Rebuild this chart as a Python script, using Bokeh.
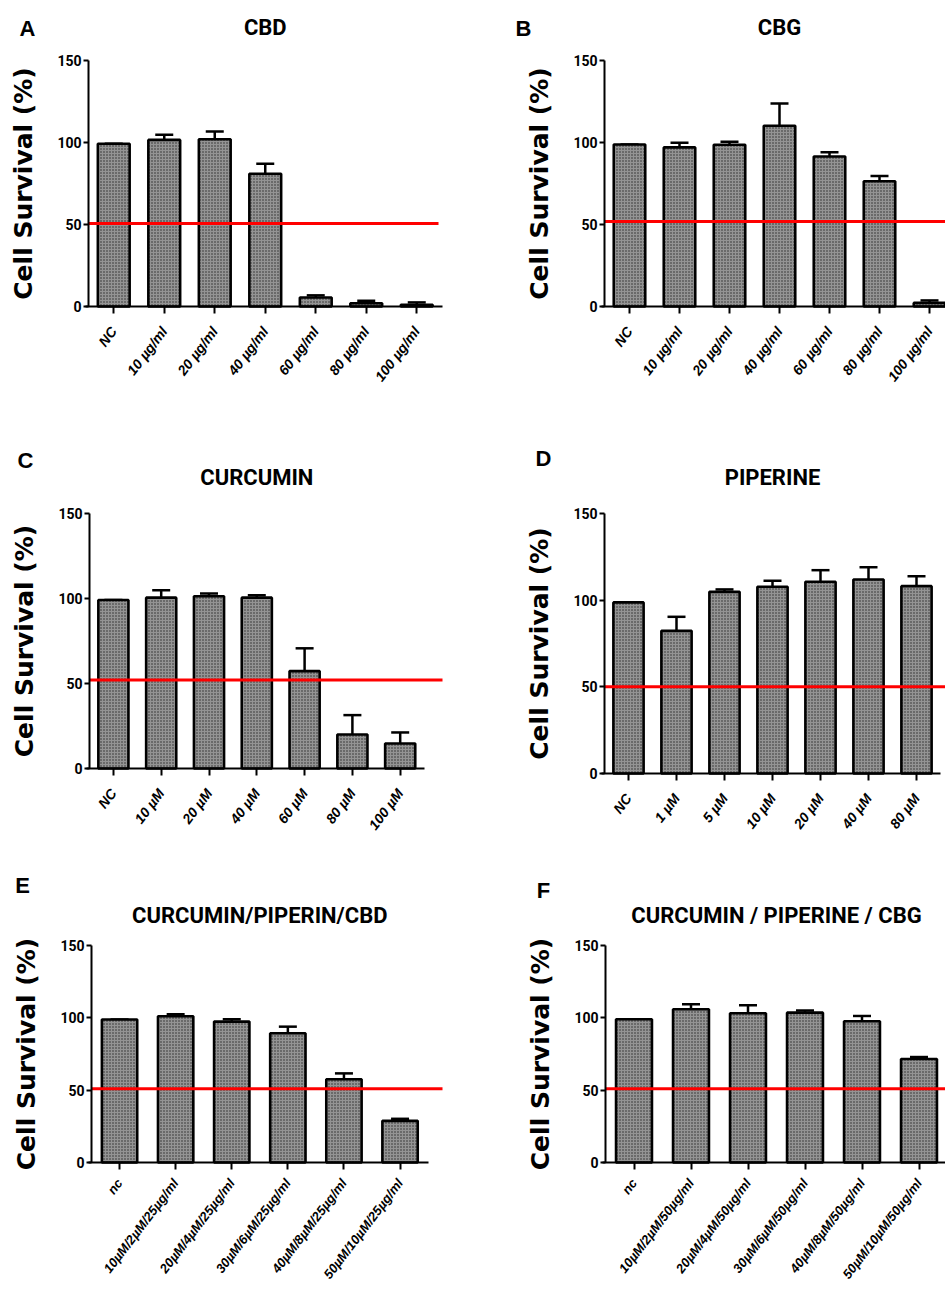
from bokeh.plotting import figure
from bokeh.models import Whisker, TeeHead, Label, ColumnDataSource, FixedTicker
from bokeh.layouts import column, row
from bokeh.embed import file_html
from bokeh.resources import INLINE
import math

# ---------------- data ----------------
cbd_labels = ["NC", "10 µg/ml", "20 µg/ml", "40 µg/ml", "60 µg/ml", "80 µg/ml", "100 µg/ml"]
cbd_mean = [99.2, 101.6, 102.0, 80.9, 5.5, 2.0, 1.0]
cbd_upper = [99.2, 104.7, 106.7, 87.0, 6.8, 3.5, 2.5]

cbg_labels = ["NC", "10 µg/ml", "20 µg/ml", "40 µg/ml", "60 µg/ml", "80 µg/ml", "100 µg/ml"]
cbg_mean = [98.8, 97.0, 98.6, 110.2, 91.5, 76.4, 2.2]
cbg_upper = [98.8, 99.8, 100.4, 123.8, 94.1, 79.5, 3.7]

cur_labels = ["NC", "10 µM", "20 µM", "40 µM", "60 µM", "80 µM", "100 µM"]
cur_mean = [99.1, 100.5, 101.3, 100.5, 57.3, 20.0, 14.7]
cur_upper = [99.1, 104.8, 103.0, 101.9, 70.7, 31.4, 21.2]

pip_labels = ["NC", "1 µM", "5 µM", "10 µM", "20 µM", "40 µM", "80 µM"]
pip_mean = [98.7, 82.3, 104.8, 107.7, 110.6, 111.9, 108.1]
pip_upper = [98.7, 90.4, 106.2, 111.2, 117.3, 119.0, 113.8]

mixe_labels = ["nc", "10µM/2µM/25µg/ml", "20µM/4µM/25µg/ml", "30µM/6µM/25µg/ml",
               "40µM/8µM/25µg/ml", "50µM/10µM/25µg/ml"]
mixe_mean = [98.8, 101.1, 97.4, 89.3, 57.5, 28.8]
mixe_upper = [98.8, 102.5, 99.0, 93.9, 61.6, 30.2]

mixf_labels = ["nc", "10µM/2µM/50µg/ml", "20µM/4µM/50µg/ml", "30µM/6µM/50µg/ml",
               "40µM/8µM/50µg/ml", "50µM/10µM/50µg/ml"]
mixf_mean = [99.0, 105.9, 103.2, 103.6, 97.6, 71.5]
mixf_upper = [99.0, 109.4, 108.7, 105.0, 101.3, 72.9]

thresholds = [50.6, 51.8, 52.0, 50.0, 51.0, 51.0]
titles = ["CBD", "CBG", "CURCUMIN", "PIPERINE", "CURCUMIN/PIPERIN/CBD", "CURCUMIN / PIPERINE / CBG"]
letters = ["A", "B", "C", "D", "E", "F"]
y_ticks = [0, 50, 100, 150]
y_label = "Cell Survival (%)"

datasets = [
    (cbd_labels, cbd_mean, cbd_upper),
    (cbg_labels, cbg_mean, cbg_upper),
    (cur_labels, cur_mean, cur_upper),
    (pip_labels, pip_mean, pip_upper),
    (mixe_labels, mixe_mean, mixe_upper),
    (mixf_labels, mixf_mean, mixf_upper),
]

# ---------------- layout (pixels, relative to each figure) ----------------
# fig_w, fig_h, axis_left, y150_top, px_per_150, px_per_category, red_end,
# title_dy (above y=150), letter_dx (from axis), letter_dy (above y=150),
# x-label font size, x-label standoff
geom = [
    (480, 440, 88, 60, 246, 50.5, 438, 33, -61, 32, "14px", 15),
    (465, 440, 124, 60, 246, 50.0, 465, 33, -81, 32, "14px", 15),
    (480, 420, 89, 73, 255, 47.8, 442, 36, -64, 53, "14px", 15),
    (465, 420, 124, 73, 260, 48.0, 465, 36, -61, 55, "14px", 15),
    (480, 431, 91, 85, 217, 56.1, 442, 30, -69, 60, "13px", 11),
    (465, 431, 125, 85, 217, 57.0, 465, 30, -62, 55, "13px", 11),
]

TXT = "Roboto"
figs = []
for k, ((labels, mean, upper), g) in enumerate(zip(datasets, geom)):
    fw, fh, left, top, frh, sp, red_end, tdy, ldx, ldy, xfs, xso = g
    n = len(labels)
    idx = list(range(n))
    upp = 150.0 / frh                      # data units per pixel (y)
    x0 = -0.5 - left / sp
    x1 = x0 + fw / sp
    y1 = 150 + top * upp
    y0 = y1 - fh * upp
    p = figure(width=fw, height=fh, x_range=(x0, x1), y_range=(y0, y1),
               output_backend="svg", toolbar_location=None,
               min_border=0, min_border_left=0, min_border_right=0,
               min_border_top=0, min_border_bottom=0)
    p.title.visible = False
    p.outline_line_color = None
    p.xgrid.visible = False
    p.ygrid.visible = False
    p.background_fill_color = "white"
    p.border_fill_color = "white"

    src = ColumnDataSource(dict(x=idx, top=mean, upper=upper))
    p.vbar(x="x", top="top", width=0.63, source=src, fill_color="#949494",
           hatch_pattern="dot", hatch_scale=3, hatch_color="#2a2a2a", hatch_weight=1.3,
           line_color="black", line_width=2.6)
    w = Whisker(base="x", lower="top", upper="upper", source=src,
                line_color="black", line_width=2.5,
                upper_head=TeeHead(size=18, line_width=2.5, line_color="black"),
                lower_head=None)
    p.add_layout(w)
    p.segment(x0=[-0.5], x1=[x0 + red_end / sp], y0=[thresholds[k]], y1=[thresholds[k]],
              line_color="#ff0000", line_width=3)

    # axes (placed inside the full-figure frame)
    xa = p.xaxis[0]
    xa.fixed_location = 0
    xa.ticker = FixedTicker(ticks=idx)
    xa.major_label_overrides = {i: lab for i, lab in enumerate(labels)}
    xa.bounds = (-0.5 - 3 / sp, n - 0.5)
    xa.major_label_orientation = 0.92
    xa.major_label_text_font = "Liberation Sans"
    xa.major_label_text_font_style = "bold italic"
    xa.major_label_text_font_size = xfs
    xa.major_label_text_color = "black"
    xa.major_label_standoff = xso
    xa.major_tick_out = 7
    xa.major_tick_in = 0
    xa.minor_tick_out = 0
    xa.minor_tick_in = 0
    xa.axis_line_width = 2
    xa.major_tick_line_width = 2

    ya = p.yaxis[0]
    ya.fixed_location = -0.5
    ya.ticker = FixedTicker(ticks=y_ticks)
    ya.bounds = (0, 150)
    ya.major_label_text_font = TXT
    ya.major_label_text_font_style = "bold"
    ya.major_label_text_font_size = "14px"
    ya.major_label_text_color = "black"
    ya.major_label_standoff = 2
    ya.major_tick_out = 5
    ya.major_tick_in = 0
    ya.minor_tick_out = 0
    ya.minor_tick_in = 0
    ya.axis_line_width = 2
    ya.major_tick_line_width = 2
    ya.axis_label = y_label
    ya.axis_label_text_font = "DejaVu Sans"
    ya.axis_label_text_font_style = "bold"
    ya.axis_label_text_font_size = "25px"
    ya.axis_label_text_color = "black"
    ya.axis_label_standoff = 16

    p.add_layout(Label(x=(n - 1) / 2, y=150 + tdy * upp, text=titles[k],
                       text_align="center", text_baseline="middle", text_font=TXT,
                       text_font_style="bold", text_font_size="22px",
                       text_color="black"))
    p.add_layout(Label(x=-0.5 + ldx / sp, y=150 + ldy * upp, text=letters[k],
                       text_align="center", text_baseline="middle",
                       text_font="Liberation Sans", text_font_style="bold",
                       text_font_size="22px", text_color="black"))
    figs.append(p)

layout = column(row(figs[0], figs[1]), row(figs[2], figs[3]), row(figs[4], figs[5]))
open("out.html", "w").write(file_html(layout, INLINE))
